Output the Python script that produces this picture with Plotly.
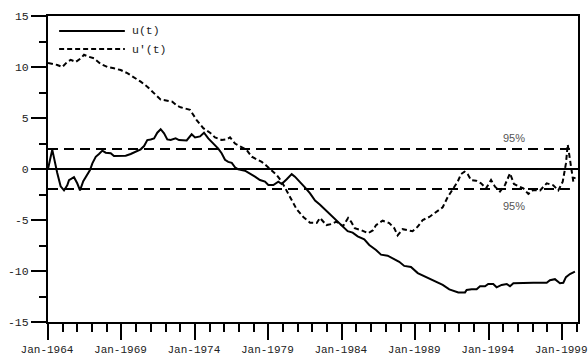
import plotly.graph_objects as go

# Sequential Mann-Kendall statistics (forward u(t) and backward u'(t))
u_years = [1964.00, 1964.29, 1964.63, 1964.86, 1965.09, 1965.31, 1965.43, 1965.65, 1965.77, 1965.99,
           1966.18, 1966.40, 1966.68, 1966.86, 1967.02, 1967.25, 1967.47, 1967.70, 1967.93, 1968.27,
           1968.49, 1968.95, 1969.29, 1969.63, 1969.97, 1970.31, 1970.54, 1970.76, 1970.99, 1971.22,
           1971.44, 1971.67, 1971.90, 1972.12, 1972.35, 1972.69, 1972.92, 1973.44, 1973.78, 1974.01,
           1974.35, 1974.62, 1974.91, 1975.25, 1975.59, 1975.82, 1976.05, 1976.27, 1976.51, 1976.73,
           1976.95, 1977.41, 1977.75, 1978.09, 1978.43, 1978.77, 1979.00, 1979.34, 1979.68, 1979.91,
           1980.25, 1980.59, 1980.81, 1981.15, 1981.49, 1981.84, 1982.18, 1982.52, 1982.70, 1983.15,
           1983.61, 1984.06, 1984.40, 1984.74, 1985.08, 1985.53, 1985.87, 1986.33, 1986.67, 1987.12,
           1987.57, 1987.91, 1988.25, 1988.71, 1989.17, 1989.73, 1990.30, 1990.87, 1991.32, 1991.77,
           1991.93, 1992.39, 1992.50, 1992.84, 1993.18, 1993.41, 1993.75, 1993.97, 1994.31, 1994.54,
           1994.88, 1995.23, 1995.45, 1995.68, 1996.36, 1997.04, 1997.95, 1998.17, 1998.51, 1998.85,
           1999.08, 1999.26, 1999.53, 1999.87]
u_values = [0.0, 1.9, -0.4, -1.7, -2.1, -1.6, -1.1, -0.9, -0.8, -1.4,
            -2.1, -1.2, -0.6, -0.1, 0.55, 1.2, 1.47, 1.8, 1.6, 1.54,
            1.27, 1.27, 1.3, 1.47, 1.7, 1.93, 2.25, 2.84, 2.9, 3.0,
            3.56, 3.9, 3.5, 2.9, 2.84, 3.0, 2.84, 2.8, 3.4, 3.1,
            3.2, 3.56, 3.0, 2.5, 2.0, 1.54, 0.9, 0.7, 0.6, 0.17,
            -0.03, -0.17, -0.42, -0.75, -1.08, -1.24, -1.57, -1.57, -1.24, -1.47,
            -1.0, -0.5, -0.75, -1.24, -1.8, -2.4, -3.1, -3.5, -3.75, -4.4,
            -5.0, -5.7, -6.1, -6.24, -6.6, -6.9, -7.45, -7.94, -8.4, -8.5,
            -8.85, -9.1, -9.5, -9.6, -10.2, -10.56, -10.95, -11.37, -11.8, -12.0,
            -12.1, -12.1, -11.86, -11.8, -11.8, -11.5, -11.5, -11.27, -11.27, -11.6,
            -11.37, -11.27, -11.5, -11.2, -11.15, -11.15, -11.15, -10.9, -10.8, -11.2,
            -11.15, -10.6, -10.3, -10.07]

ub_years = [1964.00, 1964.18, 1964.63, 1964.97, 1965.31, 1965.55, 1965.89, 1966.23, 1966.45, 1966.79,
            1967.13, 1967.59, 1968.04, 1968.49, 1968.95, 1969.40, 1969.85, 1970.31, 1970.76, 1971.22,
            1971.67, 1972.12, 1972.46, 1972.80, 1973.03, 1973.67, 1974.12, 1974.57, 1975.03, 1975.37,
            1975.82, 1976.16, 1976.39, 1976.73, 1977.07, 1977.53, 1977.87, 1978.21, 1978.55, 1978.89,
            1979.23, 1979.57, 1979.91, 1980.25, 1980.59, 1980.93, 1981.38, 1981.84, 1982.29, 1982.52,
            1982.95, 1983.29, 1983.63, 1984.09, 1984.43, 1984.65, 1984.88, 1985.33, 1985.79, 1986.13,
            1986.33, 1986.78, 1987.23, 1987.57, 1987.80, 1988.14, 1988.48, 1988.82, 1989.17, 1989.51,
            1989.96, 1990.41, 1990.87, 1991.21, 1991.55, 1991.89, 1992.12, 1992.35, 1992.57, 1992.80,
            1993.14, 1993.48, 1993.82, 1994.16, 1994.43, 1994.77, 1995.11, 1995.45, 1995.72, 1996.02,
            1996.36, 1996.70, 1997.04, 1997.50, 1997.95, 1998.40, 1998.74, 1999.04, 1999.26, 1999.38,
            1999.58, 1999.76, 1999.87]
ub_values = [10.4, 10.36, 10.2, 10.0, 10.5, 10.7, 10.5, 10.85, 11.2, 11.0,
             10.85, 10.3, 10.0, 9.87, 9.7, 9.4, 9.0, 8.56, 8.07, 7.4,
             6.8, 6.7, 6.6, 6.2, 6.05, 5.8, 4.8, 4.0, 3.56, 3.1,
             2.84, 2.9, 3.1, 2.5, 2.25, 1.86, 1.2, 0.95, 0.7, 0.3,
             -0.16, -0.6, -1.24, -2.1, -3.0, -3.95, -4.7, -5.26, -5.3, -4.8,
             -5.5, -5.4, -5.16, -5.6, -4.8, -5.2, -5.8, -6.0, -6.3, -6.0,
             -5.5, -5.07, -5.3, -5.8, -6.5, -5.9, -6.0, -6.1, -5.65, -5.0,
             -4.7, -4.2, -3.75, -2.75, -2.0, -1.24, -0.5, -0.26, -0.5, -1.08,
             -1.15, -1.4, -1.9, -1.08, -1.73, -2.2, -1.57, -0.42, -1.47, -1.7,
             -1.9, -2.45, -2.06, -2.1, -1.4, -1.6, -2.1, -1.24, 0.55, 2.4,
             0.2, -1.24, -0.8]

# 95% significance level and the span it is drawn over
conf_level = 1.96
conf_span = [1964.0, 1999.53]
conf_label = "95%"

series_names = ["u(t)", "u'(t)"]

x_tick_years = [1964, 1969, 1974, 1979, 1984, 1989, 1994, 1999]
x_tick_text = ["Jan-1964", "Jan-1969", "Jan-1974", "Jan-1979",
               "Jan-1984", "Jan-1989", "Jan-1994", "Jan-1999"]
x_minor_years = list(range(1964, 2001))
y_tick_vals = [-15, -10, -5, 0, 5, 10, 15]
y_tick_text = ["-15", "-10", "-5", "0", "5", "10", "15"]

MONO = "Liberation Mono"
INK = "#000000"
LABEL = "#222"

fig = go.Figure()

for sign in (1, -1):
    fig.add_trace(go.Scatter(
        x=conf_span, y=[sign * conf_level] * 2, mode="lines",
        line=dict(color=INK, width=2, dash="10px,6px"),
        showlegend=False, hoverinfo="skip"))

fig.add_trace(go.Scatter(
    x=u_years, y=u_values, mode="lines", name=series_names[0],
    line=dict(color=INK, width=2), showlegend=False))
fig.add_trace(go.Scatter(
    x=ub_years, y=ub_values, mode="lines", name=series_names[1],
    line=dict(color=INK, width=2, dash="5px,3px"), showlegend=False))

# Legend drawn as line samples with labels in the top-left corner
legend_rows = [(0.951, "solid"), (0.892, "5px,3px")]
for (ypos, dash), name in zip(legend_rows, series_names):
    fig.add_shape(type="line", xref="paper", yref="paper",
                  x0=0.021, x1=0.145, y0=ypos, y1=ypos,
                  line=dict(color=INK, width=2, dash=dash))
    fig.add_annotation(xref="paper", yref="paper", x=0.155, y=ypos,
                       text=name, showarrow=False, xanchor="left", yanchor="middle",
                       font=dict(family=MONO, size=11.5, color=LABEL))

# Significance labels
fig.add_annotation(x=1995.72, y=conf_level, text=conf_label, showarrow=False,
                   yanchor="bottom", yshift=3,
                   font=dict(family="Liberation Sans", size=11, color="#555555"))
fig.add_annotation(x=1995.72, y=-conf_level, text=conf_label, showarrow=False,
                   yanchor="top", yshift=-9,
                   font=dict(family="Liberation Sans", size=11, color="#555555"))

fig.update_layout(
    width=588, height=358,
    margin=dict(l=48, r=10, t=16, b=36, autoexpand=False),
    paper_bgcolor="white", plot_bgcolor="white",
    font=dict(family=MONO, size=11.5, color=LABEL),
    showlegend=False,
)

fig.update_xaxes(
    range=[1964, 2000.08], automargin=False,
    tickmode="array", tickvals=x_tick_years, ticktext=x_tick_text,
    ticklabeloverflow="allow", ticklabelshift=-1,
    ticks="outside", ticklen=16, tickwidth=2, tickcolor=INK,
    minor=dict(tickmode="array", tickvals=x_minor_years, ticks="outside",
               ticklen=8, tickwidth=2, tickcolor=INK),
    showline=True, linecolor=INK, linewidth=2, mirror=True,
    showgrid=False, zeroline=False,
    tickfont=dict(family=MONO, size=11, color=LABEL),
)
fig.update_yaxes(
    range=[-15, 15], automargin=False,
    tickmode="array", tickvals=y_tick_vals, ticktext=y_tick_text,
    ticks="outside", ticklen=15, tickwidth=2, tickcolor=INK,
    minor=dict(dtick=2.5, tick0=0, ticks="outside", ticklen=7,
               tickwidth=2, tickcolor=INK),
    showline=True, linecolor=INK, linewidth=2, mirror=True,
    showgrid=False,
    zeroline=True, zerolinecolor=INK, zerolinewidth=2,
    tickfont=dict(family=MONO, size=11.5, color=LABEL),
)

fig.write_html("out.html")
